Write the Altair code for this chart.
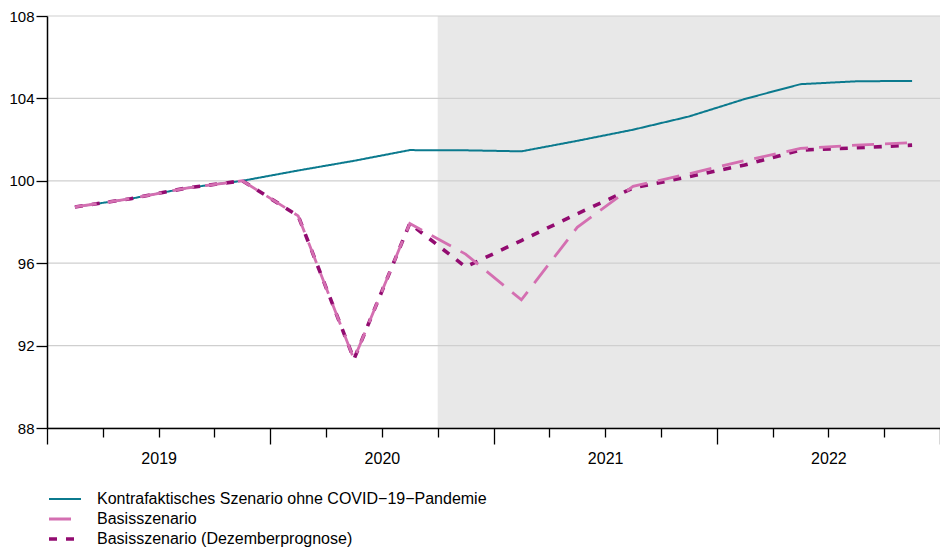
import altair as alt
import pandas as pd

# ---- data ----
quarters = ["2019Q1", "2019Q2", "2019Q3", "2019Q4",
            "2020Q1", "2020Q2", "2020Q3", "2020Q4",
            "2021Q1", "2021Q2", "2021Q3", "2021Q4",
            "2022Q1", "2022Q2", "2022Q3", "2022Q4"]

kontrafaktisch = [98.73, 99.13, 99.65, 100.00, 100.50, 100.97, 101.49, 101.48,
                  101.43, 101.94, 102.48, 103.12, 103.97, 104.69, 104.83, 104.85]
basis = [98.73, 99.13, 99.65, 100.00, 98.30, 91.34, 97.93, 96.44,
         94.22, 97.74, 99.73, 100.34, 100.98, 101.57, 101.73, 101.85]
dezember = [98.73, 99.13, 99.65, 100.00, 98.30, 91.34, 97.93, 95.82,
            97.10, 98.40, 99.65, 100.20, 100.77, 101.49, 101.60, 101.73]

series_names = ["Kontrafaktisches Szenario ohne COVID\u221219\u2212Pandemie",
                "Basisszenario",
                "Basisszenario (Dezemberprognose)"]
series_colors = ["#0B7A8E", "#D46FB1", "#920B70"]
series_dash = [[1, 0], [22, 11], [8, 9]]
series_width = [2.0, 3.6, 2.3]

y_ticks = [88, 92, 96, 100, 104, 108]
x_domain = [2019.0, 2023.0]
quarter_bounds = [2019 + i / 4 for i in range(17)]
shade_start, shade_end = 2020.75, 2023.0   # shaded forecast period (from 2020Q4)

# ---- tables ----
def qpos(q):
    return int(q[:4]) + (int(q[-1]) - 0.5) / 4

rows = []
# draw order: teal, dark dashed, pink dashed on top
for name, vals in [(series_names[0], kontrafaktisch),
                   (series_names[2], dezember),
                   (series_names[1], basis)]:
    for q, v in zip(quarters, vals):
        rows.append({"quarter": q, "pos": qpos(q), "value": v, "series": name})
df = pd.DataFrame(rows)

shade_df = pd.DataFrame([{"x": shade_start, "x2": shade_end,
                          "y": y_ticks[0], "y2": y_ticks[-1]}])
grid_df = pd.DataFrame({"v": y_ticks})

FONT = "Liberation Sans"
W, H = 893, 412

x_axis = alt.Axis(
    values=quarter_bounds,
    tickSize={"condition": {"test": "datum.value % 1 === 0", "value": 16}, "value": 9},
    labelExpr="datum.value % 1 === 0 && datum.value < 2023 ? format(datum.value, 'd') : ''",
    labelOffset=W / 8,
    labelPadding=6,
    labelFontSize=16,
    labelFont=FONT,
    labelColor="black",
    labelOverlap=False,
    labelBound=False,
    labelFlush=False,
    domainColor="black",
    domainWidth=1.5,
    tickColor="black",
    tickWidth=1.3,
    grid=False,
    title=None,
    zindex=1,
)
y_axis = alt.Axis(
    values=y_ticks,
    tickSize=11,
    labelPadding=2,
    labelFontSize=15,
    labelFont=FONT,
    labelColor="black",
    domainColor="black",
    domainWidth=1.5,
    tickColor="black",
    tickWidth=1.3,
    grid=False,
    title=None,
    zindex=1,
)

x_scale = alt.Scale(domain=x_domain, nice=False, zero=False)
y_scale = alt.Scale(domain=[y_ticks[0], y_ticks[-1]], nice=False, zero=False)

shade = alt.Chart(shade_df).mark_rect(color="#E8E8E8").encode(
    x=alt.X("x:Q", scale=x_scale, axis=x_axis),
    x2="x2:Q",
    y=alt.Y("y:Q", scale=y_scale, axis=y_axis),
    y2="y2:Q",
)

grid = alt.Chart(grid_df).mark_rule(color="#CFCFCF", strokeWidth=1.2).encode(
    y=alt.Y("v:Q", scale=y_scale, axis=y_axis),
)

legend = alt.Legend(
    orient="none", legendX=0, legendY=473, title=None,
    symbolType="stroke", symbolSize=1024, clipHeight=20, rowPadding=0,
    labelFontSize=16, labelFont=FONT, labelColor="black", labelOffset=14,
    labelLimit=0, padding=0,
)

lines = alt.Chart(df).mark_line(strokeCap="butt", strokeJoin="miter").encode(
    x=alt.X("pos:Q", scale=x_scale, axis=x_axis),
    y=alt.Y("value:Q", scale=y_scale, axis=y_axis),
    color=alt.Color("series:N", scale=alt.Scale(domain=series_names, range=series_colors),
                    legend=legend),
    strokeDash=alt.StrokeDash("series:N", scale=alt.Scale(domain=series_names, range=series_dash),
                              legend=legend),
    strokeWidth=alt.StrokeWidth("series:N", scale=alt.Scale(domain=series_names, range=series_width),
                                legend=legend),
    detail="series:N",
)

chart = alt.layer(shade, grid, lines).properties(
    width=W, height=H,
    autosize=alt.AutoSizeParams(type="none"),
    padding={"left": 39, "top": 8, "right": 0, "bottom": 120},
    background="white",
).configure_view(stroke=None)

chart.save("out.html", embed_options={"renderer": "svg", "actions": False})
